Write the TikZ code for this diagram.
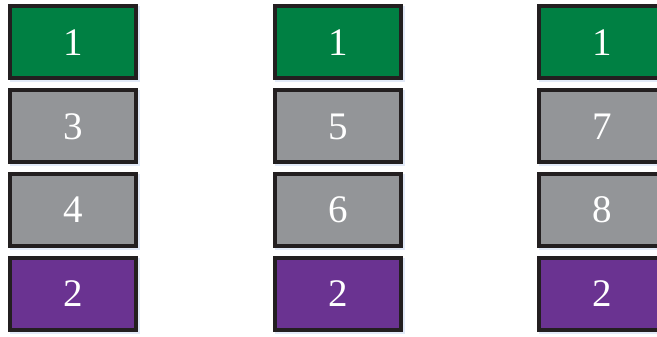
\documentclass[tikz,border=0pt]{standalone}
\usepackage{fontspec}
\setmainfont{Liberation Serif}
\definecolor{bgreen}{HTML}{008043}
\definecolor{bgray}{HTML}{939598}
\definecolor{bpurple}{HTML}{6A3391}
\definecolor{bborder}{HTML}{231F20}
\definecolor{bshadow}{HTML}{E2EAF8}
\tikzset{
  cell/.style={draw=bborder, line width=4pt, minimum width=126pt, minimum height=72pt,
    inner sep=0pt, text=white, font=\fontsize{39}{41}\selectfont,
    preaction={fill=bshadow, draw=bshadow, line width=4pt, transform canvas={shift={(2pt,-2pt)}}}},
  gcell/.style={cell, fill=bgreen},
  ycell/.style={cell, fill=bgray},
  pcell/.style={cell, fill=bpurple}
}
\begin{document}
\begin{tikzpicture}[x=1pt,y=-1pt]
\useasboundingbox (0,0) rectangle (657,337);
\clip (0,0) rectangle (657,337);
\foreach \cx/\a/\b/\n in {73/3/4/a, 338/5/6/b, 602/7/8/c}{
  \node[gcell] (\n1) at (\cx,42.5) {1};
  \node[ycell] (\n2) at (\cx,126.5) {\a};
  \node[ycell] (\n3) at (\cx,210) {\b};
  \node[pcell] (\n4) at (\cx,294) {2};
}
\end{tikzpicture}
\end{document}
